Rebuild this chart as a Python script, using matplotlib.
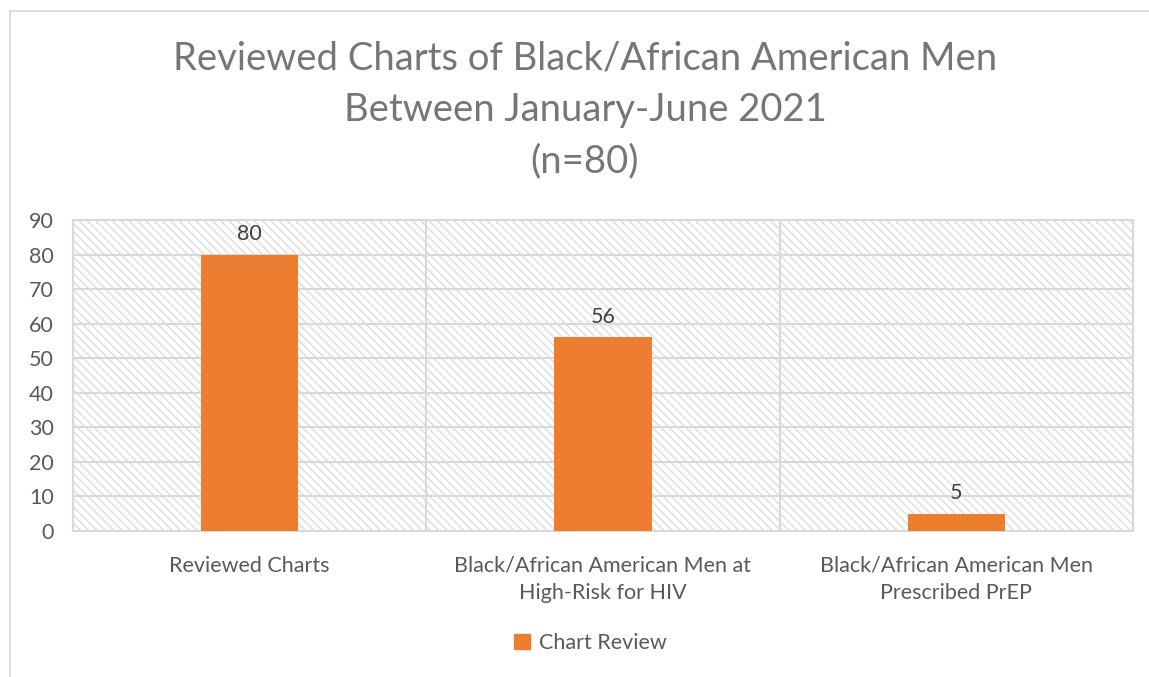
import matplotlib
matplotlib.use("Agg")
import matplotlib.pyplot as plt
from matplotlib.patches import Rectangle
from matplotlib.lines import Line2D

categories = ["Reviewed Charts",
              "Black/African American Men at\nHigh-Risk for HIV",
              "Black/African American Men\nPrescribed PrEP"]
values = [80, 56, 5]
series_name = "Chart Review"
title = "Reviewed Charts of Black/African American Men\nBetween January-June 2021\n(n=80)"
yticks = list(range(0, 100, 10))

orange = "#ED7D31"
grid_c = "#d9d9d9"
text_c = "#595959"

plt.rcParams["font.family"] = ["Lato", "DejaVu Sans"]
plt.rcParams["hatch.linewidth"] = 1.0

fig = plt.figure(figsize=(11.49, 6.77), dpi=100)
ax = fig.add_axes([73 / 1149, 1 - 531 / 677, 1060 / 1149, 311 / 677])

# outer chart border (top and left only visible)
fig.add_artist(Line2D([10 / 1149, 10 / 1149], [0, 1 - 11 / 677], transform=fig.transFigure,
                      color="#d9d9d9", lw=1.2))
fig.add_artist(Line2D([10 / 1149, 1], [1 - 11 / 677, 1 - 11 / 677], transform=fig.transFigure,
                      color="#d9d9d9", lw=1.2))

# hatched plot area
ax.add_patch(Rectangle((0, 0), 1, 1, transform=ax.transAxes, facecolor="white",
                       edgecolor="#dcdcdc", hatch="\\\\\\\\", lw=0, zorder=0))

x = list(range(len(categories)))
ax.bar(x, values, width=0.275, color=orange, zorder=3, label=series_name)
for xi, v in zip(x, values):
    ax.text(xi, v + 3, str(v), ha="center", va="bottom", fontsize=15.5, color="#404040", zorder=4)

ax.set_xlim(-0.5, len(categories) - 0.5)
ax.set_ylim(0, 90)
ax.set_yticks(yticks)
ax.set_xticks(x)
ax.set_xticklabels(categories, fontsize=15.5, color=text_c, linespacing=1.45)
ax.tick_params(axis="y", labelsize=15.5, labelcolor=text_c, length=0, pad=14)
ax.tick_params(axis="x", length=0, pad=18)

for y in yticks:
    ax.axhline(y, color=grid_c, lw=1.5, zorder=1)
for b in [0.5, 1.5]:
    ax.axvline(b, color=grid_c, lw=1.5, zorder=1)
for s in ax.spines.values():
    s.set_color(grid_c)
    s.set_linewidth(1.5)

fig.text(585 / 1149, 1 - 110 / 677, title, ha="center", va="center", fontsize=27.5,
         color="#767676", linespacing=1.52)

fig.legend(handles=[Rectangle((0, 0), 1, 1, color=orange)], labels=[series_name],
           loc="center", bbox_to_anchor=(590 / 1149, 1 - 643 / 677), frameon=False,
           fontsize=15.5, labelcolor=text_c, handlelength=0.75, handleheight=0.75,
           handletextpad=0.4)

fig.savefig("out.png", dpi=100)
